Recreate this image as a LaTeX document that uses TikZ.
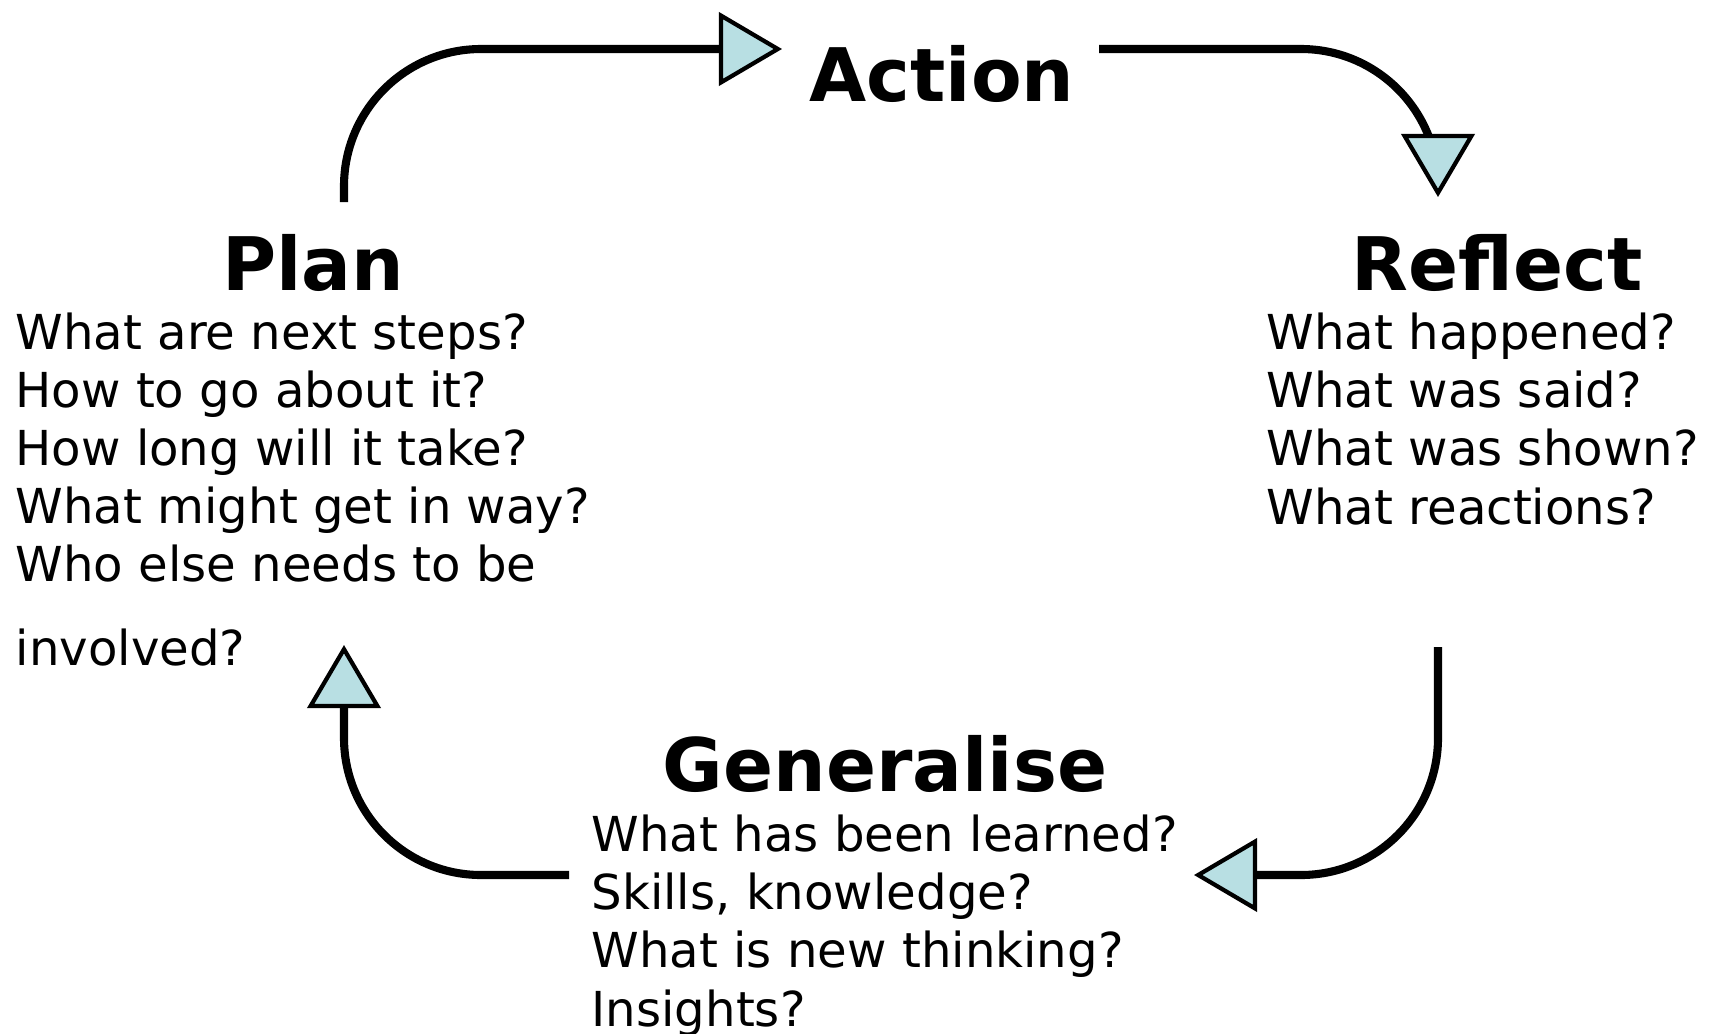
\documentclass[tikz,border=0pt]{standalone}
\usepackage{fontspec}
\setmainfont{DejaVu Sans}
\usetikzlibrary{arrows.meta}
\definecolor{tipfill}{RGB}{184,223,227}

\begin{document}
\begin{tikzpicture}[x=0.01cm,y=-0.01cm,
  stage/.style={font=\fontsize{21}{25}\selectfont\bfseries, inner sep=0pt, anchor=base},
  questions/.style={font=\fontsize{13.7}{16.5}\selectfont, align=left, inner sep=0pt, anchor=base west},
  loopline/.style={line width=2.3pt, rounded corners=1.37cm,
    -{Triangle[length=0.63cm,width=0.73cm,fill=tipfill,line width=1.2pt]}}]
\useasboundingbox (0,0) rectangle (1715,1033);

% Stage headings
\node[stage] (action) at (942,101) {Action};
\node[stage] (plan) at (313,290) {Plan};
\node[stage] (reflect) at (1497,290) {Reflect};
\node[stage] (generalise) at (885,791) {Generalise};

% Questions under each stage (anchored at the last line)
\node[questions] (planq) at (15,665) {What are next steps?\\How to go about it?\\How long will it take?\\What might get in way?\\Who else needs to be\\[0.25cm]involved?};
\node[questions] (reflectq) at (1266,524) {What happened?\\What was said?\\What was shown?\\What reactions?};
\node[questions] (generaliseq) at (591,1026) {What has been learned?\\Skills, knowledge?\\What is new thinking?\\Insights?};

% Ends of the loop
\coordinate (planout) at (344,202);
\coordinate (actionin) at (782,49);
\coordinate (actionout) at (1099,49);
\coordinate (reflectin) at (1438,197);
\coordinate (reflectout) at (1438,647);
\coordinate (generalisein) at (1194,875);
\coordinate (generaliseout) at (569,875);
\coordinate (planin) at (344,645);

\draw[loopline] (planout) |- (actionin);
\draw[loopline] (actionout) -| (reflectin);
\draw[loopline] (reflectout) |- (generalisein);
\draw[loopline] (generaliseout) -| (planin);

\end{tikzpicture}
\end{document}
